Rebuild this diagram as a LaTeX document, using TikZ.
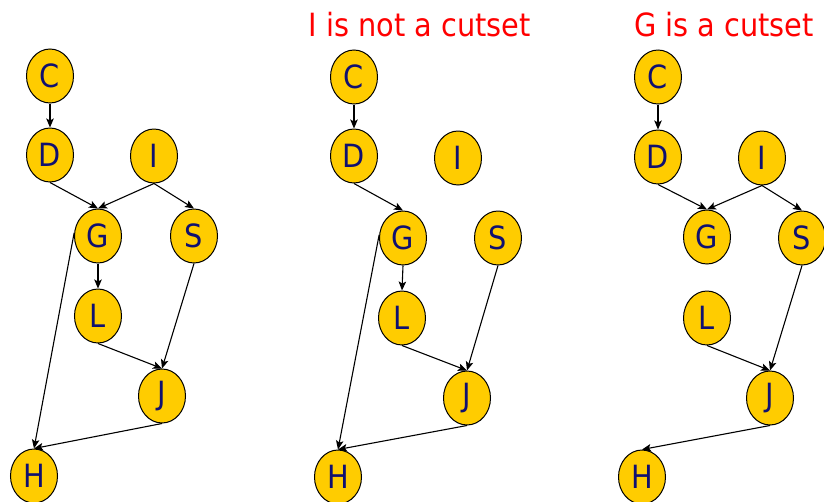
\documentclass[tikz,border=0pt]{standalone}
\usepackage{fontspec}
\setmainfont{DejaVu Sans Condensed}
\usetikzlibrary{shapes.geometric, arrows.meta}
\definecolor{nodegold}{RGB}{255,204,0}
\definecolor{letterblue}{RGB}{16,16,112}

\begin{document}
\begin{tikzpicture}
[every node/.style={inner sep=0pt},
 var/.style={ellipse, minimum width=47pt, minimum height=54pt, fill=nodegold, line width=1pt, draw=black, text=letterblue, font=\fontsize{32}{36}\selectfont},
 arc/.style={line width=1.1, -{Stealth[length=9pt, width=7.5pt, inset=2pt]}, color=black},
 caption/.style={anchor=base, text=red, font=\fontsize{32}{36}\selectfont}]
\useasboundingbox (0pt, 0pt) rectangle (824pt, -501pt);
% full network
\node (C1) [var] at (50.0pt, -76.0pt) {C};
\node (D1) [var] at (50.0pt, -155.0pt) {D};
\node (I1) [var] at (154.0pt, -156.0pt) {I};
\node (G1) [var] at (98.0pt, -236.0pt) {G};
\node (S1) [var] at (194.0pt, -236.0pt) {S};
\node (L1) [var] at (98.0pt, -316.0pt) {L};
\node (J1) [var] at (162.0pt, -396.0pt) {J};
\node (H1) [var] at (34.0pt, -476.0pt) {H};
\draw [arc] (C1.south) to (D1.north);
\draw [arc] (D1.south) to (G1.north);
\draw [arc] (I1.south) to (G1.north);
\draw [arc] (I1.south) to (S1.north);
\draw [arc] (G1.south) to (L1.north);
\draw [arc] (G1.172) to (H1.north);
\draw [arc] (L1.south) to (J1.north);
\draw [arc] (S1.south) to (J1.north);
\draw [arc] (J1.south) to (H1.north);
% I removed
\node (T2) [caption] at (419.5pt, -36.5pt) {I is not a cutset};
\node (C2) [var] at (354.0pt, -77.0pt) {C};
\node (D2) [var] at (354.0pt, -156.0pt) {D};
\node (I2) [var] at (458.0pt, -158.0pt) {I};
\node (G2) [var] at (403.0pt, -238.0pt) {G};
\node (S2) [var] at (498.0pt, -238.0pt) {S};
\node (L2) [var] at (402.0pt, -318.0pt) {L};
\node (J2) [var] at (467.0pt, -398.0pt) {J};
\node (H2) [var] at (338.0pt, -477.0pt) {H};
\draw [arc] (C2.south) to (D2.north);
\draw [arc] (D2.south) to (G2.north);
\draw [arc] (G2.south) to (L2.north);
\draw [arc] (G2.172) to (H2.north);
\draw [arc] (L2.south) to (J2.north);
\draw [arc] (S2.south) to (J2.north);
\draw [arc] (J2.south) to (H2.north);
% G removed
\node (T3) [caption] at (724.0pt, -36.5pt) {G is a cutset};
\node (C3) [var] at (658.0pt, -77.0pt) {C};
\node (D3) [var] at (658.0pt, -157.0pt) {D};
\node (I3) [var] at (762.0pt, -158.0pt) {I};
\node (G3) [var] at (707.0pt, -237.0pt) {G};
\node (S3) [var] at (802.0pt, -238.0pt) {S};
\node (L3) [var] at (707.0pt, -318.0pt) {L};
\node (J3) [var] at (770.0pt, -398.0pt) {J};
\node (H3) [var] at (642.0pt, -477.0pt) {H};
\draw [arc] (C3.south) to (D3.north);
\draw [arc] (D3.south) to (G3.north);
\draw [arc] (I3.south) to (G3.north);
\draw [arc] (I3.south) to (S3.north);
\draw [arc] (L3.south) to (J3.north);
\draw [arc] (S3.south) to (J3.north);
\draw [arc] (J3.south) to (H3.north);
\end{tikzpicture}
\end{document}
